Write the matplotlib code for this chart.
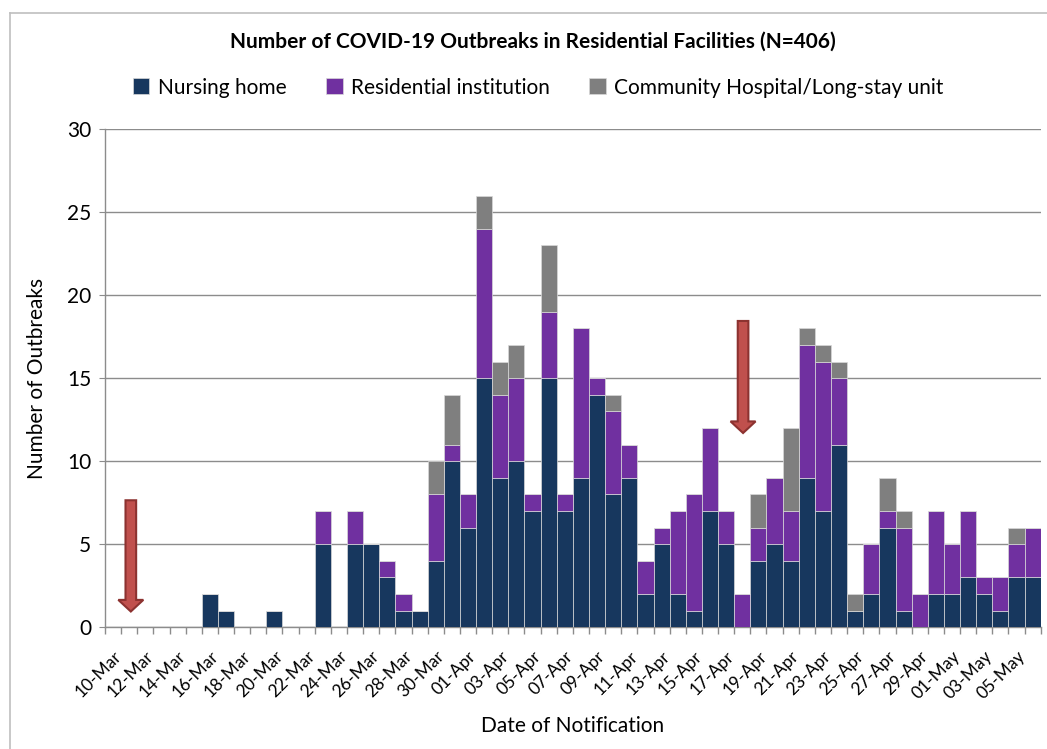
import matplotlib
matplotlib.use("Agg")
import matplotlib.pyplot as plt
import matplotlib.patches as mpatches
from matplotlib.lines import Line2D
import numpy as np
import pandas as pd

plt.rcParams['font.family'] = ['Lato', 'DejaVu Sans']

# daily notifications, 10-Mar .. 06-May
dates = pd.date_range("2020-03-10", "2020-05-06", freq="D")
nursing_home = [0, 0, 0, 0, 0, 0, 2, 1, 0, 0, 1, 0, 0, 5, 0, 5, 5, 3, 1, 1,
                4, 10, 6, 15, 9, 10, 7, 15, 7, 9, 14, 8, 9, 2, 5, 2, 1, 7, 5, 0,
                4, 5, 4, 9, 7, 11, 1, 2, 6, 1, 0, 2, 2, 3, 2, 1, 3, 3]
residential = [0, 0, 0, 0, 0, 0, 0, 0, 0, 0, 0, 0, 0, 2, 0, 2, 0, 1, 1, 0,
               4, 1, 2, 9, 5, 5, 1, 4, 1, 9, 1, 5, 2, 2, 1, 5, 7, 5, 2, 2,
               2, 4, 3, 8, 9, 4, 0, 3, 1, 5, 2, 5, 3, 4, 1, 2, 2, 3]
community = [0, 0, 0, 0, 0, 0, 0, 0, 0, 0, 0, 0, 0, 0, 0, 0, 0, 0, 0, 0,
             2, 3, 0, 2, 2, 2, 0, 4, 0, 0, 0, 1, 0, 0, 0, 0, 0, 0, 0, 0,
             2, 0, 5, 1, 1, 1, 1, 0, 2, 1, 0, 0, 0, 0, 0, 0, 1, 0]
labels = [d.strftime("%d-%b") for d in dates]

# arrows: (x position in days from 10-Mar, top, tip)
arrows = [(1.1, 7.65, 0.95), (39.05, 18.45, 11.7)]

c_nh = "#17375E"
c_ri = "#7030A0"
c_ch = "#7F7F7F"
grid_c = "#8C8C8C"

fig = plt.figure(figsize=(10.47, 7.49), dpi=100)
ax = fig.add_axes([0.1003, 0.1625, 0.8937, 0.665])

x = np.arange(len(dates))
nh = np.array(nursing_home)
ri = np.array(residential)
ch = np.array(community)
ax.bar(x, nh, width=1.0, color=c_nh, edgecolor="#d9d9d9", linewidth=0.5, label="Nursing home", zorder=3)
ax.bar(x, ri, width=1.0, bottom=nh, color=c_ri, edgecolor="#d9d9d9", linewidth=0.5,
       label="Residential institution", zorder=3)
ax.bar(x, ch, width=1.0, bottom=nh + ri, color=c_ch, edgecolor="#d9d9d9", linewidth=0.5,
       label="Community Hospital/Long-stay unit", zorder=3)

for xa, top, tip in arrows:
    arr = mpatches.FancyArrow(xa, top, 0, tip - top, width=0.66, head_width=1.55,
                              head_length=0.7, length_includes_head=True,
                              facecolor="#C0504D", edgecolor="#8C3230", linewidth=1.5, zorder=4)
    ax.add_patch(arr)

ax.set_xlim(-0.5, len(dates) - 0.5)
ax.set_ylim(0, 30)
ax.set_yticks(range(0, 31, 5))
ax.yaxis.grid(True, color=grid_c, linewidth=1.0, zorder=0)
ax.set_axisbelow(True)

ax.set_xticks(x[::2])
ax.set_xticklabels(labels[::2], rotation=45, ha="right", rotation_mode="anchor", fontsize=12.5)
ax.set_xticks(np.arange(-0.5, len(dates) + 0.5, 1), minor=True)
ax.tick_params(axis="x", which="major", length=0, pad=15)
ax.tick_params(axis="x", which="minor", length=5, color=grid_c, width=1)
ax.tick_params(axis="y", length=4, color=grid_c, labelsize=15, pad=6)

for s in ["top", "right"]:
    ax.spines[s].set_visible(False)
for s in ["left", "bottom"]:
    ax.spines[s].set_color(grid_c)
    ax.spines[s].set_linewidth(1.0)

ax.set_ylabel("Number of Outbreaks", fontsize=15, labelpad=14)
ax.set_xlabel("Date of Notification", fontsize=15, labelpad=10)

fig.text(0.509, 0.944, "Number of COVID-19 Outbreaks in Residential Facilities (N=406)",
         ha="center", va="center", fontsize=15, fontweight="bold")
fig.legend(loc="center", bbox_to_anchor=(0.514, 0.883), ncol=3, frameon=False, fontsize=15,
           handlelength=0.8, handleheight=0.8, handletextpad=0.4, columnspacing=1.9)

# chart-area border (only top and left edges visible)
fig.add_artist(Line2D([0.0095, 1.0], [1 - 13 / 749, 1 - 13 / 749], transform=fig.transFigure,
                      color="#BFBFBF", linewidth=1.2))
fig.add_artist(Line2D([0.0095, 0.0095], [0.0, 1 - 13 / 749], transform=fig.transFigure,
                      color="#BFBFBF", linewidth=1.2))

fig.savefig("out.png", dpi=100)
